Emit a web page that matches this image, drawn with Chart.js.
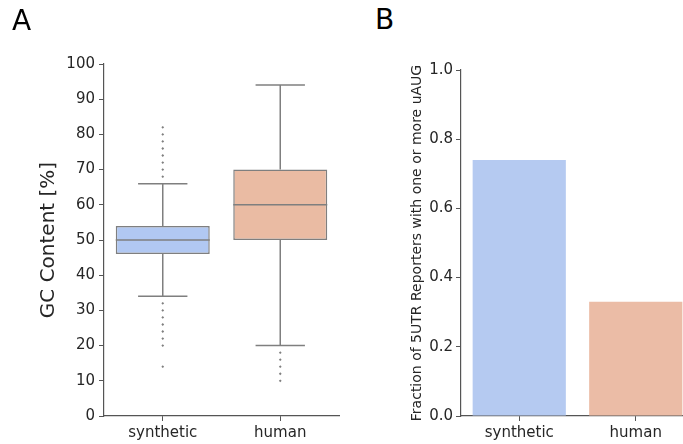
<!DOCTYPE html>
<html><head><meta charset="utf-8">
<script src="https://cdn.jsdelivr.net/npm/chart.js@4"></script>
<style>
html,body{margin:0;padding:0;background:#fff;overflow:hidden;width:683px;height:444px;}
#wrap{position:relative;width:683px;height:444px;overflow:hidden;background:#fff;}
canvas{position:absolute;}
.lbl{position:absolute;font-family:"DejaVu Sans";font-size:28px;color:#000;line-height:1;}
</style></head><body>
<div id="wrap">
<canvas id="c1" width="345" height="444" style="left:0;top:0"></canvas>
<canvas id="c2" width="300" height="444" style="left:400px;top:0"></canvas>
<div class="lbl" style="left:12px;top:7px">A</div>
<div class="lbl" style="left:375px;top:6px">B</div>
</div>
<script>
// ---- data ----
const categories = ['synthetic', 'human'];
const boxQ1 = [46, 50];
const boxMedian = [50, 60];
const boxQ3 = [54, 70];
const whiskerLow = [34, 20];
const whiskerHigh = [66, 94];
const outliersSynthetic = [82, 80, 78, 76, 74, 72, 70, 68, 32, 30, 28, 26, 24, 22, 20, 14];
const outliersHuman = [18, 16, 14, 12, 10];
const uAUGFraction = [0.74, 0.33];
const boxColors = ['#b1c8f2', '#eabba3'];
const barColors = ['#b5caf1', '#ebbca6'];

Chart.defaults.font.family = '"DejaVu Sans"';
Chart.defaults.color = '#262626';
Chart.defaults.animation = false;

const LINE = '#7f7f7f';
const AXIS = '#555555';
const CAP = 0.21;  // half cap width in category units
const HALF = 0.4;  // half box width

function seg(x1, y1, x2, y2) {
  return {
    type: 'line', xAxisID: 'x2', order: 1,
    data: [{x: x1, y: y1}, {x: x2, y: y2}],
    borderColor: LINE, borderWidth: 1.5, pointRadius: 0, fill: false
  };
}

const lineSets = [];
categories.forEach((c, i) => {
  lineSets.push(seg(i, whiskerLow[i], i, boxQ1[i]));
  lineSets.push(seg(i, boxQ3[i], i, whiskerHigh[i]));
  lineSets.push(seg(i - CAP, whiskerLow[i], i + CAP, whiskerLow[i]));
  lineSets.push(seg(i - CAP, whiskerHigh[i], i + CAP, whiskerHigh[i]));
  lineSets.push(seg(i - HALF, boxMedian[i], i + HALF, boxMedian[i]));
});

const outlierPts = outliersSynthetic.map(v => ({x: 0, y: v}))
  .concat(outliersHuman.map(v => ({x: 1, y: v})));

new Chart(document.getElementById('c1'), {
  type: 'bar',
  data: {
    labels: categories,
    datasets: [
      {
        type: 'bar', order: 2, grouped: false,
        data: categories.map((c, i) => [boxQ1[i], boxQ3[i]]),
        backgroundColor: boxColors,
        borderColor: LINE, borderWidth: 1.5, borderSkipped: false,
        barPercentage: 0.8, categoryPercentage: 1
      },
      ...lineSets,
      {
        type: 'scatter', xAxisID: 'x2', order: 0,
        data: outlierPts,
        pointStyle: 'rectRot', pointRadius: 1.4,
        backgroundColor: LINE, borderColor: LINE, borderWidth: 0
      }
    ]
  },
  options: {
    responsive: false,
    devicePixelRatio: 1,
    layout: {padding: {top: 64, right: 6, left: 0, bottom: 0}},
    plugins: {legend: {display: false}, tooltip: {enabled: false}},
    scales: {
      x: {
        type: 'category', offset: true,
        grid: {display: true, offset: false, drawOnChartArea: false, drawTicks: true, tickLength: 5, color: AXIS},
        border: {display: true, color: AXIS, width: 1.2},
        ticks: {font: {size: 15}, color: '#262626', padding: 3},
        afterFit: s => { s.height = 28; }
      },
      x2: {type: 'linear', min: -0.5, max: 1.5, offset: false, display: false},
      y: {
        min: 0, max: 100,
        ticks: {stepSize: 10, font: {size: 15}, color: '#262626', padding: 4},
        grid: {display: true, drawOnChartArea: false, drawTicks: true, tickLength: 5, color: AXIS},
        border: {display: true, color: AXIS, width: 1.2},
        title: {display: true, text: 'GC Content [%]', font: {size: 20}, color: '#262626', padding: {top: 37, bottom: 0}},
        afterFit: s => { s.width = 104; }
      }
    }
  }
});

new Chart(document.getElementById('c2'), {
  type: 'bar',
  data: {
    labels: categories,
    datasets: [{
      data: uAUGFraction,
      backgroundColor: barColors,
      borderWidth: 0,
      barPercentage: 0.8, categoryPercentage: 1
    }]
  },
  options: {
    responsive: false,
    devicePixelRatio: 1,
    layout: {padding: {top: 70, right: 6, left: 0, bottom: 0}},
    plugins: {legend: {display: false}, tooltip: {enabled: false}},
    scales: {
      x: {
        grid: {display: true, offset: false, drawOnChartArea: false, drawTicks: true, tickLength: 5, color: AXIS},
        border: {display: true, color: AXIS, width: 1.2},
        ticks: {font: {size: 15}, color: '#262626', padding: 3},
        afterFit: s => { s.height = 28; }
      },
      y: {
        min: 0, max: 1,
        ticks: {stepSize: 0.2, font: {size: 15}, color: '#262626', padding: 3,
                callback: v => Number(v).toFixed(1)},
        grid: {display: true, drawOnChartArea: false, drawTicks: true, tickLength: 5, color: AXIS},
        border: {display: true, color: AXIS, width: 1.2},
        title: {display: true, text: 'Fraction of 5UTR Reporters with one or more uAUG', font: {size: 14}, color: '#262626', padding: {top: 9, bottom: 0}},
        afterFit: s => { s.width = 61; }
      }
    }
  }
});
</script>
</body></html>
